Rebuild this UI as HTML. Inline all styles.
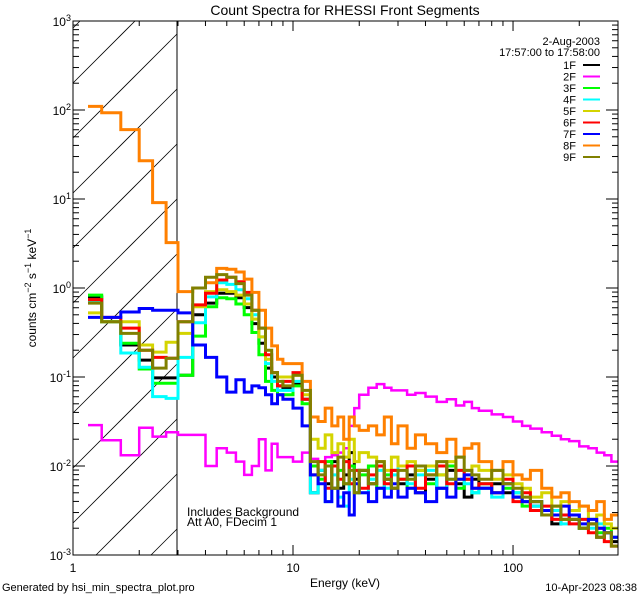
<!DOCTYPE html>
<html><head><meta charset="utf-8"><style>
html,body{margin:0;padding:0;background:#fff;width:640px;height:600px;overflow:hidden;}
svg{display:block;font-family:"Liberation Sans",sans-serif;}
</style></head><body>
<svg id="chart" width="640" height="600" viewBox="0 0 640 600" xmlns="http://www.w3.org/2000/svg">
<rect width="640" height="600" fill="#fff"/>
<defs><clipPath id="plotclip"><rect x="73" y="21" width="545" height="534"/></clipPath></defs>
<text x="345" y="15" text-anchor="middle" font-size="14">Count Spectra for RHESSI Front Segments</text>
<text transform="translate(36,288) rotate(-90)" text-anchor="middle" font-size="12">counts cm<tspan dy="-5" font-size="9">−2</tspan><tspan dy="5"> s</tspan><tspan dy="-5" font-size="9">−1</tspan><tspan dy="5"> keV</tspan><tspan dy="-5" font-size="9">−1</tspan></text>
<text x="345" y="587" text-anchor="middle" font-size="12">Energy (keV)</text>
<text x="2" y="591" font-size="11">Generated by hsi_min_spectra_plot.pro</text>
<text x="637" y="591" text-anchor="end" font-size="11">10-Apr-2023 08:38</text>
<text x="187" y="516" font-size="12">Includes Background</text>
<text x="187" y="526" font-size="12">Att A0, FDecim 1</text>
<g id="hatch"></g>
<line x1="177" y1="21" x2="177" y2="555" stroke="#000" stroke-width="1"/>
<g id="series" clip-path="url(#plotclip)"></g>
<g id="axes"></g>
<g id="legend"></g>
</svg>
<script>
const edges=[1.17,1.35,1.65,2.0,2.3,2.65,3.0,3.5,4,4.5,5,5.5,6,6.5,7,7.5,8,8.5,9,10,11,12,13,14,15,16,17,18,19,20,22,24,26,28,30,33,36,40,45,50,55,60,65,70,80,90,100,110,120,135,150,165,180,200,220,240,260,280,300];
const seriesNames=["1F","2F","3F","4F","5F","6F","7F","8F","9F"];
const seriesColors=["#000000","#ff00ff","#00ff00","#00ffff","#d4d400","#ff0000","#0000ff","#ff8000","#808000"];
const logCounts1F=[-0.10,-0.38,-0.64,-0.81,-1.01,-1.01,-0.98,-0.30,-0.17,-0.06,-0.06,-0.11,-0.22,-0.40,-0.62,-0.90,-1.00,-1.10,-1.12,-1.08,-1.25,-2.30,-2.05,-2.20,-1.95,-2.25,-2.10,-1.85,-2.15,-2.05,-2.20,-2.00,-2.15,-2.25,-2.20,-2.10,-2.30,-2.15,-2.25,-2.05,-2.20,-2.35,-2.15,-2.25,-2.20,-2.30,-2.35,-2.40,-2.45,-2.50,-2.65,-2.55,-2.60,-2.70,-2.65,-2.80,-2.75,-2.85];
const logCounts2F=[-1.54,-1.71,-1.88,-1.57,-1.67,-1.62,-1.65,-1.65,-2.00,-1.80,-1.85,-1.95,-2.10,-2.00,-1.70,-2.05,-1.75,-1.90,-1.90,-1.95,-1.85,-1.92,-1.95,-1.90,-1.88,-1.85,-1.80,-1.55,-1.35,-1.20,-1.12,-1.08,-1.12,-1.15,-1.15,-1.20,-1.18,-1.22,-1.28,-1.25,-1.32,-1.28,-1.35,-1.38,-1.42,-1.45,-1.50,-1.55,-1.58,-1.62,-1.66,-1.70,-1.72,-1.78,-1.80,-1.85,-1.88,-1.95];
const logCounts3F=[-0.08,-0.38,-0.62,-0.91,-1.07,-1.07,-0.98,-0.54,-0.21,-0.11,-0.12,-0.18,-0.30,-0.50,-0.75,-1.05,-1.15,-1.20,-1.20,-1.10,-1.30,-2.00,-2.15,-1.95,-2.25,-2.05,-2.20,-2.00,-2.30,-2.10,-2.00,-2.25,-2.10,-2.05,-2.15,-2.25,-2.05,-2.20,-2.10,-2.00,-2.25,-2.15,-2.30,-2.20,-2.30,-2.25,-2.30,-2.45,-2.40,-2.50,-2.55,-2.60,-2.55,-2.70,-2.60,-2.75,-2.70,-2.80];
const logCounts4F=[-0.15,-0.38,-0.73,-0.89,-1.22,-1.24,-0.78,-0.39,-0.10,0.06,0.04,-0.02,-0.12,-0.30,-0.55,-0.85,-1.05,-1.15,-1.15,-1.05,-1.25,-2.30,-2.05,-2.40,-2.10,-2.35,-2.45,-2.15,-2.05,-2.30,-2.15,-2.05,-2.25,-2.10,-2.00,-2.20,-2.10,-2.05,-2.25,-2.15,-2.05,-2.20,-2.30,-2.25,-2.35,-2.20,-2.30,-2.40,-2.45,-2.55,-2.50,-2.65,-2.55,-2.60,-2.70,-2.65,-2.75,-2.80];
const logCounts5F=[-0.28,-0.38,-0.38,-0.64,-0.72,-0.61,-0.51,-0.21,-0.04,-0.02,-0.04,-0.08,-0.18,-0.35,-0.55,-0.80,-0.95,-1.00,-1.00,-0.98,-1.20,-1.70,-1.80,-1.65,-1.85,-1.75,-1.90,-1.70,-1.95,-1.85,-1.90,-1.95,-2.05,-1.90,-2.00,-1.95,-2.05,-2.00,-2.10,-1.95,-2.15,-2.05,-2.00,-2.05,-2.15,-2.10,-2.20,-2.25,-2.35,-2.30,-2.45,-2.40,-2.50,-2.45,-2.60,-2.55,-2.65,-2.70];
const logCounts6F=[-0.13,-0.33,-0.45,-0.70,-0.78,-0.79,-0.38,-0.19,-0.06,0.09,0.12,0.07,-0.05,-0.25,-0.45,-0.75,-0.95,-1.10,-1.05,-0.95,-1.25,-2.10,-1.95,-2.25,-2.00,-2.15,-1.95,-2.20,-2.05,-2.25,-2.10,-2.00,-2.20,-2.05,-2.15,-2.00,-2.25,-2.10,-2.00,-2.20,-2.05,-2.15,-2.25,-2.20,-2.30,-2.15,-2.40,-2.30,-2.50,-2.45,-2.60,-2.55,-2.65,-2.60,-2.75,-2.70,-2.85,-2.90];
const logCounts7F=[-0.33,-0.33,-0.27,-0.23,-0.25,-0.25,-0.28,-0.64,-0.78,-1.00,-1.17,-1.03,-1.17,-1.10,-1.12,-1.20,-1.30,-1.20,-1.25,-1.35,-1.55,-2.10,-2.20,-2.40,-2.25,-2.45,-2.30,-2.55,-2.20,-2.30,-2.40,-2.25,-2.35,-2.20,-2.35,-2.25,-2.30,-2.40,-2.25,-2.35,-2.15,-2.10,-2.25,-2.25,-2.30,-2.20,-2.35,-2.40,-2.40,-2.50,-2.55,-2.45,-2.55,-2.65,-2.60,-2.70,-2.75,-2.80];
const logCounts8F=[2.04,1.97,1.78,1.43,0.96,0.51,-0.04,0.00,0.06,0.22,0.21,0.18,0.10,-0.05,-0.25,-0.45,-0.65,-0.80,-0.85,-0.85,-1.05,-1.45,-1.50,-1.35,-1.55,-1.45,-1.70,-1.45,-1.55,-1.60,-1.55,-1.65,-1.45,-1.75,-1.55,-1.80,-1.65,-1.75,-1.85,-1.70,-1.90,-1.80,-1.75,-1.95,-2.05,-1.95,-2.10,-2.15,-2.05,-2.25,-2.35,-2.30,-2.40,-2.45,-2.50,-2.40,-2.60,-2.55];
const logCounts9F=[-0.17,-0.38,-0.51,-0.70,-0.90,-0.79,-0.38,0.00,0.12,0.15,0.12,0.05,-0.08,-0.25,-0.45,-0.70,-0.95,-1.05,-1.10,-0.98,-1.15,-1.95,-2.10,-2.00,-2.25,-1.90,-2.20,-2.05,-2.30,-2.05,-2.20,-1.95,-2.15,-2.25,-2.05,-2.15,-2.00,-2.10,-1.95,-2.15,-1.90,-2.05,-2.10,-2.15,-2.05,-2.20,-2.25,-2.35,-2.40,-2.55,-2.45,-2.60,-2.60,-2.70,-2.65,-2.80,-2.75,-2.90];
const allLogCounts=[logCounts1F,logCounts2F,logCounts3F,logCounts4F,logCounts5F,logCounts6F,logCounts7F,logCounts8F,logCounts9F];
const xTickMajor=[1,10,100];
const yTickExps=[-3,-2,-1,0,1,2,3];

const NS="http://www.w3.org/2000/svg";
const X0=73,X1=618,Y0=21,Y1=555;
const xMinLog=0,xMaxLog=Math.log10(300);
const yMinLog=-3,yMaxLog=3;
function xs(e){return X0+(Math.log10(e)-xMinLog)/(xMaxLog-xMinLog)*(X1-X0);}
function ysLog(l){return Y1-(l-yMinLog)/(yMaxLog-yMinLog)*(Y1-Y0);}
function mk(tag,attrs,parent){const el=document.createElementNS(NS,tag);for(const k in attrs)el.setAttribute(k,attrs[k]);parent.appendChild(el);return el;}

// hatch lines clipped manually: y = b - (x - X0), x in [73,177], y in [Y0,Y1]
const hatch=document.getElementById('hatch');
const HX1=177;
for(let b=83-55*2;b<Y1+(HX1-X0)+55;b+=55){
  let xa=X0, ya=b;
  if(ya>Y1){xa=X0+(ya-Y1);ya=Y1;}
  let xb=HX1, yb=b-(HX1-X0);
  if(yb<Y0){xb=X0+(b-Y0);yb=Y0;}
  if(xa>=xb||xa>HX1||xb<X0)continue;
  const ln=mk('line',{x1:xa,y1:ya,x2:xb,y2:yb,stroke:'#000','stroke-width':0.8},hatch);
  
  
}

const sg=document.getElementById('series');
allLogCounts.forEach((vals,si)=>{
  let d='';
  for(let i=0;i<vals.length;i++){
    const xa=xs(edges[i]).toFixed(1),xb=xs(edges[i+1]).toFixed(1),y=ysLog(vals[i]).toFixed(1);
    d+=(i===0?'M'+xa+' '+y:'V'+y)+'H'+xb;
  }
  const p=mk('path',{d:d,fill:'none',stroke:seriesColors[si],'stroke-width':si===1?2.5:3,'stroke-linejoin':'miter'},sg);
  
  
});

const ax=document.getElementById('axes');
const box=mk('rect',{x:X0,y:Y0,width:X1-X0,height:Y1-Y0,fill:'none',stroke:'#000','stroke-width':1},ax);


for(let dec=1;dec<=100;dec*=10){
  for(let m=1;m<=9;m++){
    const e=dec*m; if(e>300)break;
    const x=xs(e), major=(m===1), len=major?10:5;
    mk('line',{x1:x,y1:Y1,x2:x,y2:Y1-len,stroke:'#000','stroke-width':1},ax);
    mk('line',{x1:x,y1:Y0,x2:x,y2:Y0+len,stroke:'#000','stroke-width':1},ax);
  }
}
xTickMajor.forEach(v=>{
  const t=mk('text',{x:xs(v),y:Y1+17,'text-anchor':'middle','font-size':12},ax);
  t.textContent=String(v);
  
  
});
yTickExps.forEach(ex=>{
  for(let m=1;m<=9;m++){
    const l=ex+Math.log10(m); if(l>yMaxLog+1e-9)break;
    const y=ysLog(l), len=(m===1)?12:6;
    mk('line',{x1:X0,y1:y,x2:X0+len,y2:y,stroke:'#000','stroke-width':1},ax);
    mk('line',{x1:X1,y1:y,x2:X1-len,y2:y,stroke:'#000','stroke-width':1},ax);
  }
  const t=mk('text',{x:X0-2,y:ysLog(ex)+5,'text-anchor':'end','font-size':12},ax);
  t.innerHTML='10<tspan dy="-5" font-size="9">'+ex+'</tspan>';
  
  
});

const lg=document.getElementById('legend');
const h1=mk('text',{x:600,y:45,'text-anchor':'end','font-size':11},lg);h1.textContent='2-Aug-2003';


const h2=mk('text',{x:600,y:56,'text-anchor':'end','font-size':11},lg);h2.textContent='17:57:00 to 17:58:00';


seriesNames.forEach((n,i)=>{
  const y=65+i*11.5;
  const g=mk('g',{},lg);
  
  
  const t=mk('text',{x:576,y:y+4,'text-anchor':'end','font-size':11},g);t.textContent=n;
  mk('line',{x1:583,y1:y,x2:600,y2:y,stroke:seriesColors[i],'stroke-width':2},g);
});
</script>
</body></html>
